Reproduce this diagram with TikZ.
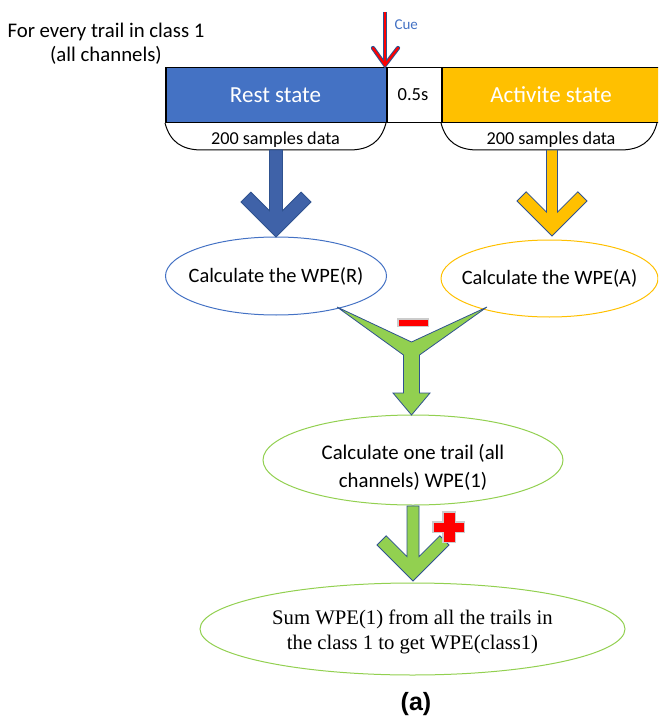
\documentclass[tikz,border=0pt]{standalone}
\usepackage{fontspec}
\setmainfont{Carlito}
\newfontfamily\timesf{Liberation Serif}
\newfontfamily\arialf{Liberation Sans}
\usetikzlibrary{shapes.geometric}
\definecolor{bluebox}{HTML}{4472C4}
\definecolor{bluearrow}{HTML}{3F62A8}
\definecolor{outl}{HTML}{2F528F}
\definecolor{yel}{HTML}{FFC000}
\definecolor{grn}{HTML}{92D050}
\definecolor{redc}{HTML}{FF0000}
\tikzset{
  barbox/.style={draw=black, line width=1.5pt, minimum height=55pt, inner sep=0pt, anchor=north west},
  wpe/.style={ellipse, line width=1pt, inner sep=0pt},
  blockarrow/.style={draw=outl, line width=0.8pt, line join=miter},
}
\begin{document}
\begin{tikzpicture}[x=1pt,y=-1pt]
\useasboundingbox (0,0) rectangle (658,722);
\clip (0,0) rectangle (658,722);
% heading text
\node[align=center, font=\fontsize{20.8}{24}\selectfont] (head) at (106,44) {For every trail in class 1\\(all channels)};
% bar
\node[barbox, fill=bluebox, minimum width=221pt] (rest) at (165,67) {};
\node[text=white, font=\fontsize{23}{27}\selectfont] (resttext) at (275.5,95) {Rest state};
\node[barbox, fill=white, minimum width=55pt] (gap) at (386,67) {};
\node[font=\fontsize{18.5}{22}\selectfont] (gaptext) at (413,95) {0.5s};
\node[barbox, fill=yel, minimum width=230pt] (act) at (441,67) {};
\node[text=white, font=\fontsize{23}{27}\selectfont] (acttext) at (551,95) {Activite state};
% cue arrow
\coordinate (cuetop) at (385,12);
\coordinate (cuetip) at (385,65);
\draw[outl, line width=4.2pt, line join=miter] (cuetop) -- (cuetip);
\draw[outl, line width=4.2pt, line join=miter, line cap=round] (373,48) -- (cuetip) -- (398,48);
\draw[redc, line width=2.2pt, line join=miter] (cuetop) -- (cuetip);
\draw[redc, line width=2.2pt, line join=miter, line cap=round] (373,48) -- (cuetip) -- (398,48);
\node[text=bluebox, font=\fontsize{15}{17}\selectfont, anchor=west] (cue) at (391,25) {Cue};
% braces
\draw[line width=1pt] (165,123) .. controls (170,142) and (182,150) .. (202,150) -- (349,150) .. controls (369,150) and (381,142) .. (386,123);
\node[font=\fontsize{18.2}{21}\selectfont] (rs) at (275.5,140) {200 samples data};
\draw[line width=1pt] (441,123) .. controls (446,142) and (458,150) .. (478,150) -- (620,150) .. controls (640,150) and (652,142) .. (657,123);
\node[font=\fontsize{18.2}{21}\selectfont] (as) at (551,140) {200 samples data};
% ellipses
\node[wpe, draw=bluebox, minimum width=221pt, minimum height=78pt] (wper) at (276,276) {};
\node[font=\fontsize{20.4}{24}\selectfont] (wpert) at (276,276) {Calculate the WPE(R)};
\node[wpe, draw=yel, minimum width=217pt, minimum height=77pt] (wpea) at (549.5,278.5) {};
\node[font=\fontsize{20.4}{24}\selectfont] (wpeat) at (549.5,278.5) {Calculate the WPE(A)};
\node[wpe, draw=grn, minimum width=300pt, minimum height=90pt] (wpe1) at (413,460) {};
\node[align=center, font=\fontsize{20.8}{28}\selectfont] (wpe1t) at (413,467.5) {Calculate one trail (all\\channels) WPE(1)};
\node[wpe, draw=grn, minimum width=425pt, minimum height=92pt] (wpec) at (412.5,629) {};
\node[align=center, font=\timesf\fontsize{20.7}{25.5}\selectfont] (wpect) at (412.5,632) {Sum WPE(1) from all the trails in\\the class 1 to get WPE(class1)};
% block arrows
\filldraw[blockarrow, fill=bluearrow] (269.5,150) -- (269.5,210.7) -- (250.9,192.1) -- (241,202) -- (276,237) -- (311,202) -- (301.1,192.1) -- (282.5,210.7) -- (282.5,150) -- cycle;
\filldraw[blockarrow, fill=yel] (546.5,150) -- (546.5,212.1) -- (526.2,191.8) -- (517,201) -- (552,236) -- (587,201) -- (577.8,191.8) -- (557.5,212.1) -- (557.5,150) -- cycle;
\filldraw[blockarrow, fill=grn] (337,307) -- (411.5,342) -- (487,307) -- (419.5,355) -- (419.5,393) -- (430,393) -- (411.5,415) -- (393,393) -- (403.5,393) -- (403.5,355) -- cycle;
\filldraw[blockarrow, fill=grn] (407,506) -- (407,556.6) -- (386.2,535.8) -- (377,545) -- (413,581) -- (449,545) -- (439.8,535.8) -- (419,556.6) -- (419,506) -- cycle;
% minus and plus
\fill[gray!40] (397,318) rectangle (429,327);
\fill[redc] (398.5,319.5) rectangle (427.5,325.5);
\fill[gray!40] (442,511) rectangle (456,543);
\fill[gray!40] (432,521) rectangle (465,533);
\fill[redc] (443.5,512.5) rectangle (454.5,541.5);
\fill[redc] (433.5,522.5) rectangle (463.5,531.5);
% caption
\node[font=\arialf\bfseries\fontsize{25}{30}\selectfont] (cap) at (416,704) {(a)};
\end{tikzpicture}
\end{document}
